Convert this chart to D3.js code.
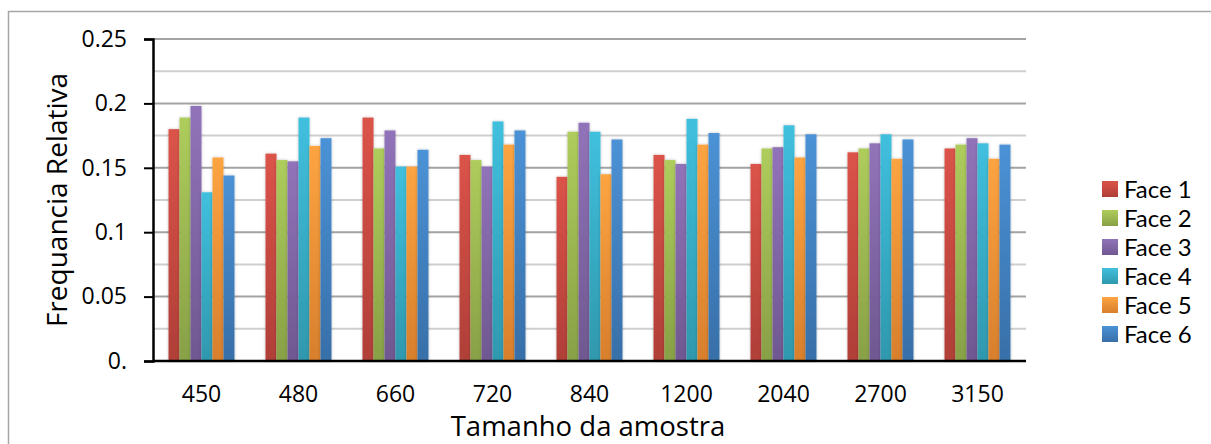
<!DOCTYPE html>
<html><head><meta charset="utf-8">
<script src="https://cdn.jsdelivr.net/npm/d3@7"></script>
<style>body{margin:0;background:#fff}svg{display:block}text{font-family:"Open Sans",sans-serif;fill:#000}</style>
</head><body><svg id="c" width="1211" height="444"></svg>
<script>
const categories = ["450","480","660","720","840","1200","2040","2700","3150"];
const seriesNames = ["Face 1","Face 2","Face 3","Face 4","Face 5","Face 6"];
const face1 = [0.180,0.161,0.189,0.160,0.143,0.160,0.153,0.162,0.165];
const face2 = [0.189,0.156,0.165,0.156,0.178,0.156,0.165,0.165,0.168];
const face3 = [0.198,0.155,0.179,0.151,0.185,0.153,0.166,0.169,0.173];
const face4 = [0.131,0.189,0.151,0.186,0.178,0.188,0.183,0.176,0.169];
const face5 = [0.158,0.167,0.151,0.168,0.145,0.168,0.158,0.157,0.157];
const face6 = [0.144,0.173,0.164,0.179,0.172,0.177,0.176,0.172,0.168];
const yTickValues = [0,0.05,0.1,0.15,0.2,0.25];
const yTickLabels = ["0.","0.05","0.1","0.15","0.2","0.25"];
const colorsTop = ["#DB5349","#AECD5C","#9173B9","#40C0DE","#FDA442","#4B92D6"];
const colorsBot = ["#AF3F38","#88A046","#6F5891","#2F98AD","#D77F2C","#386FA8"];

const series = [face1,face2,face3,face4,face5,face6];
const svg = d3.select("#c");
const L=153, R=1026, T=39, B=361;

// outer border
svg.append("path").attr("d","M8.5,444 V11.5 H1211").attr("fill","none").attr("stroke","#a6a6a6").attr("stroke-width",1.5);

const defs = svg.append("defs");
seriesNames.forEach((s,i)=>{
  const g = defs.append("linearGradient").attr("id","g"+i).attr("x1",0).attr("y1",0).attr("x2",0).attr("y2",1);
  g.append("stop").attr("offset","0%").attr("stop-color",colorsTop[i]);
  g.append("stop").attr("offset","100%").attr("stop-color",colorsBot[i]);
});
const f = defs.append("filter").attr("id","sh").attr("x","-30%").attr("y","-10%").attr("width","160%").attr("height","120%");
f.append("feGaussianBlur").attr("in","SourceAlpha").attr("stdDeviation",1.5).attr("result","b");
f.append("feOffset").attr("in","b").attr("dx",0).attr("dy",0).attr("result","o");
f.append("feComponentTransfer").attr("in","o").attr("result","o2").append("feFuncA").attr("type","linear").attr("slope",0.25);
const m = f.append("feMerge"); m.append("feMergeNode").attr("in","o2"); m.append("feMergeNode").attr("in","SourceGraphic");

const y = d3.scaleLinear().domain([0,0.25]).range([B,T]);
const x0 = d3.scaleBand().domain(categories).range([L,R]).paddingInner(0.32).paddingOuter(0.16);
const x1 = d3.scaleBand().domain(seriesNames).range([0,x0.bandwidth()]);

// gridlines
const minor = d3.range(0.025,0.25,0.05);
svg.append("g").selectAll("line").data(minor).join("line")
  .attr("x1",L).attr("x2",R).attr("y1",d=>y(d)).attr("y2",d=>y(d))
  .attr("stroke","#cfcfcf").attr("stroke-width",2);
svg.append("g").selectAll("line").data(yTickValues.slice(1)).join("line")
  .attr("x1",L).attr("x2",R).attr("y1",d=>y(d)).attr("y2",d=>y(d))
  .attr("stroke","#a3a3a3").attr("stroke-width",2);

// bars
const groups = svg.append("g").selectAll("g").data(categories).join("g")
  .attr("transform",d=>`translate(${x0(d)},0)`);
groups.selectAll("rect").data((d,ci)=>series.map((s,si)=>({si,v:s[ci]}))).join("rect")
  .attr("x",d=>x1(seriesNames[d.si])).attr("width",x1.bandwidth())
  .attr("y",d=>y(d.v)).attr("height",d=>B-y(d.v))
  .attr("fill",d=>`url(#g${d.si})`).attr("filter","url(#sh)");

// y axis
const yAxis = d3.axisLeft(y).tickValues(yTickValues).tickFormat((d,i)=>yTickLabels[i]).tickSize(9).tickPadding(17);
const ya = svg.append("g").attr("transform",`translate(${L},0)`).call(yAxis);
ya.select(".domain").attr("stroke","#000").attr("stroke-width",2.5);
ya.selectAll(".tick line").attr("stroke","#000").attr("stroke-width",2);
ya.selectAll("text").attr("font-size",23).style("font-family","Open Sans");

// x axis
const xAxis = d3.axisBottom(x0).tickSize(0).tickPadding(25);
const xa = svg.append("g").attr("transform",`translate(0,${B})`).call(xAxis);
xa.select(".domain").attr("stroke","#000").attr("stroke-width",2.5).attr("d",`M${L},0H${R}`);
xa.selectAll("text").attr("font-size",23).style("font-family","Open Sans");

// titles
svg.append("text").attr("x",588).attr("y",436).attr("text-anchor","middle").attr("font-size",27.5).text("Tamanho da amostra");
svg.append("text").attr("transform","translate(67,200) rotate(-90)").attr("text-anchor","middle").attr("font-size",28).text("Frequancia Relativa");

// legend
const lg = svg.append("g").selectAll("g").data(seriesNames).join("g")
  .attr("transform",(d,i)=>`translate(1102,${181+i*29})`);
lg.append("rect").attr("width",16).attr("height",16).attr("fill",(d,i)=>`url(#g${i})`);
lg.append("text").attr("x",22).attr("y",17).attr("font-size",24).style("font-family","Lato").text(d=>d);
</script></body></html>
